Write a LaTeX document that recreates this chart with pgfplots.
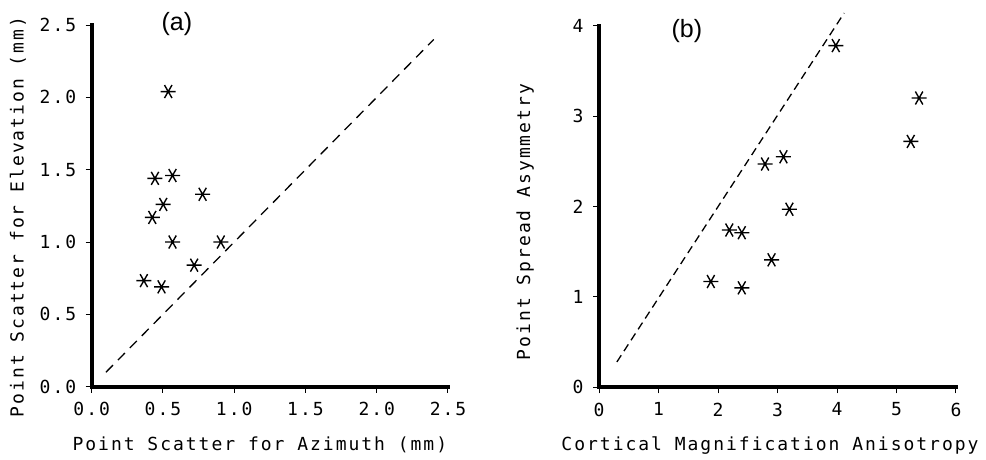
\documentclass[border=0pt]{standalone}
\usepackage{fontspec}
\setmonofont{DejaVu Sans Mono}[LetterSpace=11]
\newfontfamily\helv{Liberation Sans}
\usepackage{pgfplots}
\pgfplotsset{compat=1.18}
\pgfplotsset{myax/.style={
  scale only axis, axis lines=left,
  every outer x axis line/.append style={-, line width=4pt, line cap=rect},
  every outer y axis line/.append style={-, line width=4pt, line cap=rect},
  axis line style={-},
  clip=false, tick align=outside, major tick length=6pt,
  tick style={line width=1pt,black},
  /pgf/number format/assume math mode=true,
  tick label style={font=\ttfamily\fontsize{18}{18}\selectfont},
  xticklabel style={yshift=-6pt},
  yticklabel style={xshift=-6pt},
  label style={font=\ttfamily\fontsize{18}{18}\selectfont},
  title style={font=\helv\fontsize{25}{25}\selectfont, anchor=center},
  xlabel style={anchor=center}, ylabel style={anchor=center, rotate=0},
}}
\begin{document}
\begin{tikzpicture}
\path[use as bounding box] (0,0) rectangle (986pt,459pt);
% panel (a)
\begin{axis}[myax, at={(91.7pt,72.3pt)}, anchor=south west,
  width=356.3pt, height=361.7pt,
  xmin=0, xmax=2.5, ymin=0, ymax=2.5,
  xtick={0,0.5,...,2.5}, ytick={0,0.5,...,2.5},
  xticklabels={0.0,0.5,1.0,1.5,2.0,2.5},
  yticklabels={0.0,0.5,1.0,1.5,2.0,2.5},
  xlabel={Point Scatter for Azimuth (mm)},
  ylabel={Point Scatter for Elevation (mm)},
  xlabel style={at={(axis description cs:0.472,-0.161)}},
  ylabel style={at={(axis description cs:-0.207,0.469)}},
  title={(a)}, title style={at={(axis description cs:0.239,0.985)}},
]
\addplot[only marks, mark=asterisk, mark size=7.5pt, mark options={rotate=90, line width=1.4pt}, black]
coordinates {
(0.537,2.04) (0.444,1.44) (0.567,1.46) (0.778,1.33) (0.502,1.26)
(0.425,1.17) (0.567,1.00) (0.906,1.00) (0.719,0.84) (0.366,0.733)
(0.49,0.69)
};
\addplot[black, line width=1.3pt, dash pattern=on 10pt off 7pt] coordinates {(0.1,0.1) (2.4,2.4)};
\end{axis}
% panel (b)
\begin{axis}[myax, at={(599pt,71.7pt)}, anchor=south west,
  width=357pt, height=361.6pt,
  xmin=0, xmax=6, ymin=0, ymax=4,
  xtick={0,1,...,6}, ytick={0,1,...,4},
  xlabel={Cortical Magnification Anisotropy},
  ylabel={Point Spread Asymmetry},
  xlabel style={at={(axis description cs:0.479,-0.16)}},
  ylabel style={at={(axis description cs:-0.207,0.457)}},
  title={(b)}, title style={at={(axis description cs:0.246,0.97)}},
]
\addplot[only marks, mark=asterisk, mark size=7.5pt, mark options={rotate=90, line width=1.4pt}, black]
coordinates {
(3.98,3.78) (5.38,3.20) (5.24,2.72) (3.10,2.55) (2.79,2.47)
(3.20,1.97) (2.19,1.74) (2.40,1.71) (2.90,1.41) (1.88,1.17)
(2.40,1.10)
};
\addplot[black, line width=1.3pt, dash pattern=on 8pt off 5pt] coordinates {(0.3,0.28) (4.12,4.14)};
\end{axis}
\end{tikzpicture}
\end{document}
